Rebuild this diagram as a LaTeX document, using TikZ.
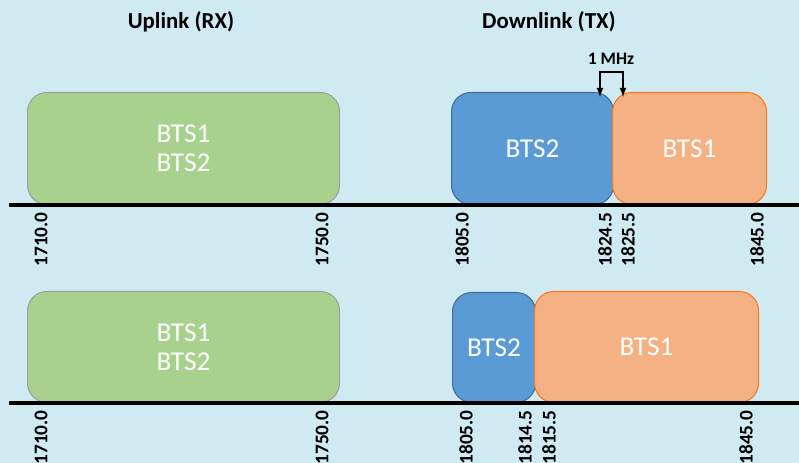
\documentclass[tikz,border=0pt]{standalone}
\usepackage{fontspec}
\setsansfont{Carlito}
\usetikzlibrary{arrows.meta}
\tikzset{>=latex}
\definecolor{bgblue}{RGB}{208,234,242}
\definecolor{bandgreen}{RGB}{169,209,142}
\definecolor{bandblue}{RGB}{91,155,213}
\definecolor{bandorange}{RGB}{244,177,131}
\tikzset{
    band/.style={rounded corners=11pt, line width=.6pt, anchor=south west, inner sep=0pt,
        text=white, align=center, font=\sffamily\fontsize{15.5}{16.5}\selectfont},
    ulband/.style={band, fill=bandgreen, draw=gray!75},
    dlblue/.style={band, fill=bandblue, draw=bandblue!70!black},
    dlorange/.style={band, fill=bandorange, draw=orange!80!red!90},
    freq/.style={rotate=90, anchor=east, inner sep=0pt, font=\sffamily\bfseries\fontsize{11}{13}\selectfont},
    title/.style={font=\sffamily\bfseries\fontsize{13}{15}\selectfont},
    axis/.style={line width=1.8pt}
}

\begin{document}
\begin{tikzpicture}[x=.02cm, y=-.02cm]
    \fill[bgblue](0, 0)rectangle(799, 463);
    \useasboundingbox(0, 0)rectangle(799, 463);

    \node[title](ultitle)at(181, 22){Uplink (RX)};
    \node[title](dltitle)at(549, 22){Downlink (TX)};

    % upper allocation
    \node[ulband, minimum width=312*.02cm, minimum height=112*.02cm](ua)at(27, 205){BTS1\\BTS2};
    \node[dlblue, minimum width=162*.02cm, minimum height=112*.02cm](ub)at(451, 205){BTS2};
    \node[dlorange, minimum width=154*.02cm, minimum height=112*.02cm](uo)at(612, 205){BTS1};
    \coordinate(uaxl)at(9, 205);
    \coordinate(uaxr)at(799, 205);
    \draw[axis](uaxl)--(uaxr);

    \node(mhz)[font=\sffamily\bfseries\fontsize{10}{12}\selectfont]at(611, 59){1 MHz};
    \coordinate(gapl)at(600, 97);
    \coordinate(gapr)at(623, 97);
    \draw[<->, thick](gapl)--++(0, -25)-|(gapr);

    \foreach \x/\f in {41/1710.0, 322/1750.0, 462/1805.0, 605/1824.5, 628/1825.5, 757/1845.0}
        \node[freq](u\x)at(\x, 212){\f};

    % lower allocation
    \node[ulband, minimum width=312*.02cm, minimum height=111*.02cm](la)at(27, 403){BTS1\\BTS2};
    \node[dlblue, minimum width=83*.02cm, minimum height=110*.02cm](lb)at(452, 403){BTS2};
    \node[dlorange, minimum width=224*.02cm, minimum height=111*.02cm](lo)at(534, 403){BTS1};
    \coordinate(laxl)at(9, 403);
    \coordinate(laxr)at(799, 403);
    \draw[axis](laxl)--(laxr);

    \foreach \x/\f in {41/1710.0, 322/1750.0, 466/1805.0, 525/1814.5, 549/1815.5, 746/1845.0}
        \node[freq](l\x)at(\x, 410){\f};
\end{tikzpicture}
\end{document}
